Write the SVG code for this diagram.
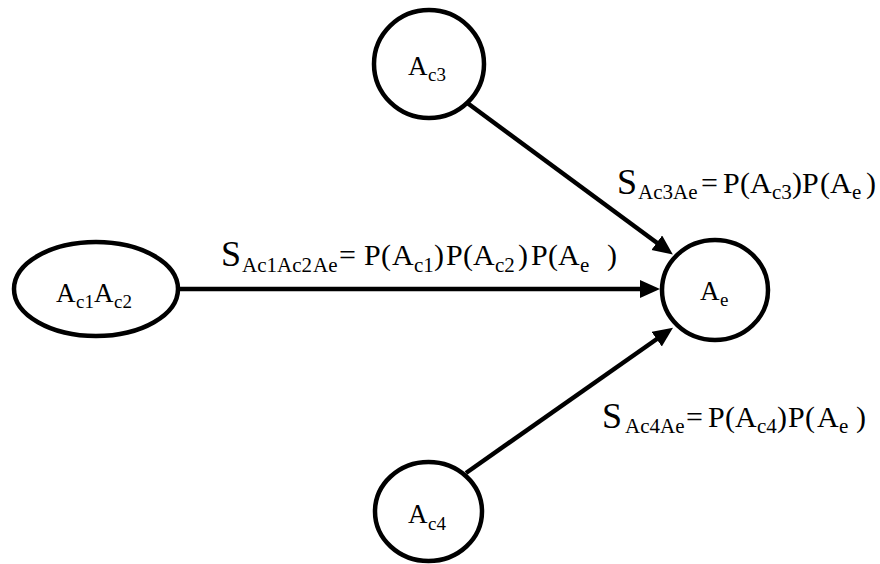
<svg xmlns="http://www.w3.org/2000/svg" width="880" height="564" viewBox="0 0 880 564">
<style>
.shape{fill:#fff;stroke:#000;stroke-width:4.5}
.edge{stroke:#000;stroke-width:4.5;fill:none}
.t{font-family:"Times New Roman","Liberation Serif",Times,serif;fill:#000}
.m{font-size:30px}
.s{font-size:21px}
.S{font-size:36px}
.n{font-size:27px}
.ns{font-size:19px}
</style>
<defs>
<marker id="arr" markerUnits="userSpaceOnUse" markerWidth="22" markerHeight="20" refX="9" refY="9" orient="auto" viewBox="0 0 22 20">
<path d="M0,0 L20,9 L0,18 z" fill="#000"/>
</marker>
</defs>
<rect width="880" height="564" fill="#fff"/>
<g id="connectors">
<line class="edge" x1="178" y1="289" x2="649" y2="289" marker-end="url(#arr)"/>
<line class="edge" x1="466" y1="102" x2="664" y2="248" marker-end="url(#arr)"/>
<line class="edge" x1="466" y1="473" x2="664" y2="334" marker-end="url(#arr)"/>
</g>
<g id="node-ac1ac2">
<ellipse class="shape" cx="96" cy="289" rx="82" ry="47"/>
<text class="t n"><tspan x="56" y="302">A</tspan><tspan class="ns" x="76" y="308">c1</tspan><tspan x="94" y="302">A</tspan><tspan class="ns" x="114" y="308">c2</tspan></text>
</g>
<g id="node-ac3">
<ellipse class="shape" cx="429" cy="64" rx="55" ry="54"/>
<text class="t n"><tspan x="408" y="75">A</tspan><tspan class="ns" x="428" y="81">c3</tspan></text>
</g>
<g id="node-ac4">
<ellipse class="shape" cx="428.5" cy="511.5" rx="53.5" ry="49.5"/>
<text class="t n"><tspan x="408" y="523">A</tspan><tspan class="ns" x="428" y="530">c4</tspan></text>
</g>
<g id="node-ae">
<ellipse class="shape" cx="715" cy="290" rx="53" ry="50"/>
<text class="t n"><tspan x="700" y="300">A</tspan><tspan class="ns" x="720" y="306">e</tspan></text>
</g>
<g id="label-1">
<text class="t m"><tspan class="S" x="221" y="266">S</tspan><tspan class="s" x="242" y="272">Ac1</tspan><tspan class="s" x="277" y="272">Ac2</tspan><tspan class="s" x="313" y="272">Ae</tspan><tspan x="339" y="265">=</tspan><tspan x="364" y="265">P</tspan><tspan x="381" y="265">(</tspan><tspan x="392" y="265">A</tspan><tspan class="s" x="414" y="272">c1</tspan><tspan x="434" y="265">)</tspan><tspan x="446" y="265">P</tspan><tspan x="463" y="265">(</tspan><tspan x="473" y="265">A</tspan><tspan class="s" x="495" y="272">c2</tspan><tspan x="518" y="265">)</tspan><tspan x="531" y="265">P</tspan><tspan x="548" y="265">(</tspan><tspan x="558" y="265">A</tspan><tspan class="s" x="580" y="272">e</tspan><tspan x="607" y="265">)</tspan></text>
</g>
<g id="label-2">
<text class="t m"><tspan class="S" x="617" y="194">S</tspan><tspan class="s" x="638" y="199">Ac3</tspan><tspan class="s" x="673" y="199">Ae</tspan><tspan x="701" y="193">=</tspan><tspan x="723" y="193">P</tspan><tspan x="740" y="193">(</tspan><tspan x="750" y="193">A</tspan><tspan class="s" x="772" y="199">c3</tspan><tspan x="792" y="193">)</tspan><tspan x="802" y="193">P</tspan><tspan x="820" y="193">(</tspan><tspan x="830" y="193">A</tspan><tspan class="s" x="852" y="199">e</tspan><tspan x="866" y="193">)</tspan></text>
</g>
<g id="label-3">
<text class="t m"><tspan class="S" x="602" y="428">S</tspan><tspan class="s" x="625" y="433">Ac4</tspan><tspan class="s" x="660" y="433">Ae</tspan><tspan x="686" y="427">=</tspan><tspan x="708" y="427">P</tspan><tspan x="725" y="427">(</tspan><tspan x="735" y="427">A</tspan><tspan class="s" x="757" y="433">c4</tspan><tspan x="777" y="427">)</tspan><tspan x="788" y="427">P</tspan><tspan x="805" y="427">(</tspan><tspan x="817" y="427">A</tspan><tspan class="s" x="839" y="433">e</tspan><tspan x="856" y="427">)</tspan></text>
</g>
</svg>
